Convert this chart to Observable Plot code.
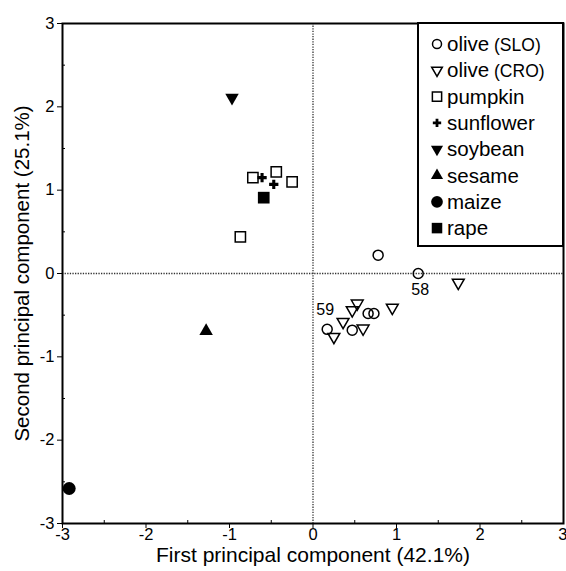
<!DOCTYPE html>
<html>
<head>
<meta charset="utf-8">
<script src="https://cdn.jsdelivr.net/npm/d3@7"></script>
<script src="https://cdn.jsdelivr.net/npm/@observablehq/plot@0.6"></script>
<style>
  html, body { margin: 0; padding: 0; background: white; }
</style>
</head>
<body>
<div id="chart"></div>
<script>
// ---- data ----
const oliveSLO_x = [0.78, 1.26, 0.66, 0.73, 0.17, 0.47];
const oliveSLO_y = [0.22, 0.00, -0.48, -0.48, -0.67, -0.68];
const oliveCRO_x = [1.74, 0.53, 0.47, 0.95, 0.36, 0.25, 0.60];
const oliveCRO_y = [-0.11, -0.36, -0.44, -0.41, -0.58, -0.76, -0.66];
const pumpkin_x = [-0.72, -0.44, -0.25, -0.87];
const pumpkin_y = [1.15, 1.22, 1.10, 0.44];
const sunflower_x = [-0.61, -0.47];
const sunflower_y = [1.15, 1.07];
const soybean_x = [-0.97];
const soybean_y = [2.11];
const sesame_x = [-1.28];
const sesame_y = [-0.69];
const maize_x = [-2.92];
const maize_y = [-2.58];
const rape_x = [-0.59];
const rape_y = [0.91];

const pointLabels = ["58", "59"];
const pointLabel_x = [1.26, 0.17];
const pointLabel_y = [0.00, -0.67];

const xTicks = [-3, -2, -1, 0, 1, 2];
const xTickLast = [3];
const yTicks = [-3, -2, -1, 0, 1, 2, 3];
const minorTicks = [-2.5, -1.5, -0.5, 0.5, 1.5, 2.5];

const xTitle = "First principal component (42.1%)";
const yTitle = "Second principal component (25.1%)";

const legendNames = ["olive", "olive", "pumpkin", "sunflower", "soybean", "sesame", "maize", "rape"];
const legendSuffix = ["(SLO)", "(CRO)", "", "", "", "", "", ""];

// ---- build tables ----
const zip = (xs, ys) => xs.map((x, i) => ({x, y: ys[i]}));
const series = [
  {data: zip(oliveSLO_x, oliveSLO_y), symbol: "circle", d3sym: d3.symbolCircle, filled: false, r: 5, rotate: 0},
  {data: zip(oliveCRO_x, oliveCRO_y), symbol: "triangle", d3sym: d3.symbolTriangle, filled: false, r: 4.4, rotate: 180},
  {data: zip(pumpkin_x, pumpkin_y), symbol: "square", d3sym: d3.symbolSquare, filled: false, r: 5.8, rotate: 0},
  {data: zip(sunflower_x, sunflower_y), symbol: "cross", d3sym: d3.symbolCross, filled: true, r: 3.9, rotate: 0},
  {data: zip(soybean_x, soybean_y), symbol: "triangle", d3sym: d3.symbolTriangle, filled: true, r: 5, rotate: 180},
  {data: zip(sesame_x, sesame_y), symbol: "triangle", d3sym: d3.symbolTriangle, filled: true, r: 5, rotate: 0},
  {data: zip(maize_x, maize_y), symbol: "circle", d3sym: d3.symbolCircle, filled: true, r: 6.5, rotate: 0},
  {data: zip(rape_x, rape_y), symbol: "square", d3sym: d3.symbolSquare, filled: true, r: 6.6, rotate: 0}
];
const labelData = pointLabels.map((t, i) => ({x: pointLabel_x[i], y: pointLabel_y[i], t}));

const FONT = "'Liberation Sans', Arial, Helvetica, sans-serif";
const fmt = d => String(d).replace("\u2212", "-");

const dotMarks = series.map(s => Plot.dot(s.data, {
  x: "x", y: "y",
  symbol: s.symbol,
  r: s.r,
  rotate: s.rotate,
  fill: s.filled ? "black" : "none",
  stroke: s.filled ? "none" : "black",
  strokeWidth: 1.5
}));

const chart = Plot.plot({
  width: 566,
  height: 571,
  marginLeft: 62,
  marginRight: 3,
  marginTop: 23,
  marginBottom: 48,
  style: {fontFamily: FONT, fontSize: "16px", background: "white", color: "black", overflow: "visible"},
  x: {domain: [-3, 3]},
  y: {domain: [-3, 3]},
  marks: [
    Plot.ruleX([0], {stroke: "#333", strokeWidth: 1.3, strokeDasharray: "1.3,1.3"}),
    Plot.ruleY([0], {stroke: "#333", strokeWidth: 1.3, strokeDasharray: "1.3,1.3"}),
    Plot.axisX({ticks: xTicks, tickSize: 5, tickPadding: 0, tickFormat: fmt, label: null, fontSize: 16.5}),
    Plot.axisX({ticks: xTickLast, tickSize: 5, tickPadding: 0, tickFormat: fmt, label: null, fontSize: 16.5, textAnchor: "end", dx: 4}),
    Plot.axisY({ticks: yTicks, tickSize: 5, tickPadding: 3, tickFormat: fmt, label: null, fontSize: 16.5}),
    Plot.axisX({ticks: minorTicks, tickSize: -3, tickFormat: () => "", label: null}),
    Plot.axisY({ticks: minorTicks, tickSize: -3, tickFormat: () => "", label: null}),
    Plot.frame({stroke: "black", strokeWidth: 2}),
    ...dotMarks,
    Plot.text(labelData.filter(d => d.t === "58"), {x: "x", y: "y", text: "t", dy: 16, dx: 2, fontSize: 16}),
    Plot.text(labelData.filter(d => d.t === "59"), {x: "x", y: "y", text: "t", dy: -19, dx: -2, fontSize: 16}),
    Plot.text([xTitle], {frameAnchor: "bottom", lineAnchor: "middle", textAnchor: "middle", dy: 32, fontSize: 21, text: d => d}),
    Plot.text([yTitle], {frameAnchor: "left", lineAnchor: "middle", textAnchor: "middle", dx: -40, rotate: -90, fontSize: 20.5, text: d => d})
  ]
});
document.getElementById("chart").appendChild(chart);

// ---- legend (inside the SVG, top-right) ----
const svg = d3.select(chart);
const lg = svg.append("g").attr("font-family", FONT).attr("text-anchor", "start");
const boxX = 418, boxY = 23, boxW = 563 - 418, boxH = 246 - 23;
lg.append("rect").attr("x", boxX).attr("y", boxY).attr("width", boxW).attr("height", boxH)
  .attr("fill", "white").attr("stroke", "black").attr("stroke-width", 2);
series.forEach((s, i) => {
  const cy = 44 + i * 26.3;
  const size = Math.PI * (s.r * 0.9) ** 2;
  lg.append("path")
    .attr("d", d3.symbol(s.d3sym, size)())
    .attr("transform", `translate(437,${cy}) rotate(${s.rotate})`)
    .attr("fill", s.filled ? "black" : "none")
    .attr("stroke", s.filled ? "none" : "black")
    .attr("stroke-width", 1.5);
  const t = lg.append("text").attr("x", 447).attr("y", cy).attr("dy", "0.35em")
    .attr("text-anchor", "start")
    .attr("font-size", 20.5).attr("fill", "black");
  t.append("tspan").text(legendNames[i]);
  if (legendSuffix[i]) t.append("tspan").attr("font-size", 17.5).text(" " + legendSuffix[i]);
});
</script>
</body>
</html>
